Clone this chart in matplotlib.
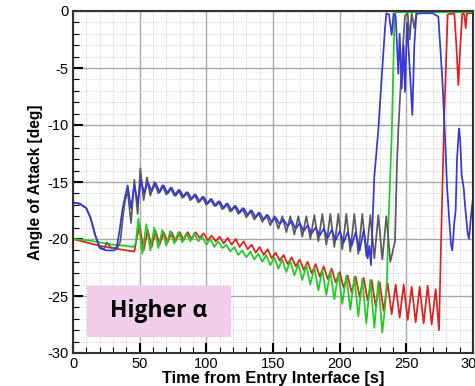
import matplotlib
matplotlib.use("Agg")
import matplotlib.pyplot as plt
from matplotlib.patches import Rectangle
from matplotlib.ticker import MultipleLocator

plt.rcParams['font.family'] = ['Liberation Sans', 'DejaVu Sans']
plt.rcParams['axes.unicode_minus'] = False

# angle of attack [deg] vs time from entry interface [s]
blue_time = [0, 5, 10, 13, 16.5, 20, 25, 31, 33, 35, 37, 38.5, 41, 43.5, 46, 48.5, 51, 53.5,
             56, 59, 62, 65, 68, 71, 74, 77, 80, 83, 86, 89, 92, 95, 98, 101, 104,
             107, 110, 113, 116, 119, 122, 125, 128, 131, 134, 137, 140, 143, 146, 149, 152, 155,
             158, 161, 164, 167, 170, 173, 176, 179, 182, 185, 188, 191, 194, 197, 200, 203, 206,
             209, 212, 215, 218, 221,
             222.2, 223.5, 225, 226, 227.5, 229, 232, 234, 235, 237, 239, 240.5, 242, 244, 245,
             246.5, 248, 249, 250.5, 252, 253, 254.5, 256, 257.5, 260, 270, 274, 277, 279, 280.5,
             282, 283.5, 284.5, 286, 287, 288, 289.5, 290.5, 291.5, 293, 294, 296, 297, 298.5, 300]
blue_aoa = [-16.8, -16.9, -17.3, -18.1, -19.6, -20.8, -21.0, -21.0, -20.6, -19.2, -17.5, -16.6,
            -15.3, -17.3, -15.3, -16.8, -14.9, -16.0,
            -15.0, -15.8, -15.1, -15.9, -15.3, -16.0, -15.5, -16.2, -15.7, -16.3, -15.9, -16.5,
            -16.1, -16.7, -16.3, -16.9, -16.5,
            -17.1, -16.7, -17.3, -16.9, -17.5, -17.1, -17.7, -17.3, -17.9, -17.5, -18.1, -17.7,
            -18.3, -17.9, -18.5, -18.1, -18.7,
            -18.3, -18.9, -18.4, -19.1, -18.6, -19.3, -18.8, -19.5, -19.0, -19.7, -19.1, -19.9,
            -19.2, -20.1, -19.3, -20.3, -19.4,
            -20.6, -19.4, -21.0, -19.2, -21.7,
            -20.6, -22.3, -17.5, -14.5, -12.5, -10.4, -5.0, -1.5, -0.2, -0.3, -2.1, -0.2, -0.5,
            -5.5, -2.0, -6.8, -3.0, -7.1, -1.0, -4.0, -6.0, -9.1, -3.0, -0.3, -0.2, -0.2, -0.5,
            -6.0, -11.0, -15.3, -18.0, -20.5, -21.0, -18.5, -17.5, -13.0, -10.3, -11.5, -14.4,
            -15.5, -17.0, -19.5, -20.0, -18.0, -16.4]

gray_time = [0, 5, 10, 13, 16.5, 20, 23, 25.5, 28, 33, 35.5, 37.5, 39,
             41, 43.5, 46, 48.5, 50.5, 53, 55.5,
             58, 61, 64, 67, 70, 73, 76, 79, 82, 85, 88, 91, 94, 97, 100, 103, 106,
             109, 112, 115, 118, 121, 124, 127, 130, 133, 136, 139, 142, 145, 148, 151, 154, 157,
             160, 163, 166, 169, 172, 175, 178, 181, 184, 187, 190, 193, 196, 199, 202, 205, 208,
             211, 214, 217, 220, 223, 226, 229, 232, 235, 238,
             241.5, 243, 244, 245, 247, 249, 251, 252.5, 254, 256, 257.5]
gray_aoa = [-16.8, -16.9, -17.3, -18.1, -19.6, -20.7, -20.9, -20.3, -20.7, -20.9, -20.2, -18.0,
            -16.6, -15.8, -18.6, -14.8, -17.8, -13.8, -16.6, -14.6,
            -16.2, -15.0, -16.0, -15.3, -16.1, -15.5, -16.2, -15.7, -16.4, -15.9, -16.6, -16.1,
            -16.8, -16.3, -17.0, -16.5, -17.1,
            -16.7, -17.4, -16.9, -17.6, -17.1, -17.8, -17.3, -18.1, -17.5, -18.3, -17.7, -18.5,
            -17.9, -18.8, -18.0, -19.1, -18.0,
            -19.4, -18.0, -19.6, -18.0, -19.8, -18.0, -20.0, -17.9, -20.2, -17.8, -20.5, -17.8,
            -20.7, -17.8, -20.9, -17.8, -21.1,
            -17.8, -21.3, -17.8, -21.5, -17.9, -21.7, -17.9, -21.8, -18.0, -22.0,
            -20.2, -13.3, -10.4, -8.2, -3.9, -0.4, -0.2, -2.5, -0.2, -1.5, -0.2]

red_time = [0, 10, 20, 30, 40, 46, 48,
            50, 53, 56, 59, 62, 65, 68, 71, 74, 77, 80, 83, 86, 89, 92, 95, 98,
            101, 104, 107, 110, 113, 116, 119, 122, 125, 128, 131, 134, 137, 140, 143, 146, 149,
            152, 155, 158, 161, 164, 167, 170, 173, 176, 179, 182, 185, 188, 191, 194, 197, 200,
            203, 206, 209, 212, 215, 218, 221, 224, 227, 230, 233, 236, 239, 242, 245, 248, 251,
            254, 257, 260, 263, 266, 269, 272,
            274.5, 276.5, 278.5, 281, 286, 287.5, 289, 290.5, 292, 293.5, 294.5, 295.5, 300]
red_aoa = [-20.0, -20.3, -20.6, -20.8, -21.0, -21.1, -19.8,
           -18.8, -21.0, -19.2, -20.7, -19.3, -20.5, -19.4, -20.3, -19.4, -20.2, -19.4, -20.1,
           -19.4, -20.0, -19.4, -19.9, -19.5,
           -20.1, -19.7, -20.2, -19.8, -20.4, -19.9, -20.5, -20.0, -20.7, -20.2, -20.9, -20.5,
           -21.2, -20.7, -21.4, -20.9, -21.7,
           -21.2, -21.9, -21.4, -22.2, -21.6, -22.4, -21.8, -22.7, -22.0, -23.0, -22.2, -23.3,
           -22.4, -23.5, -22.6, -23.8, -22.9,
           -24.3, -23.2, -24.7, -23.3, -25.1, -23.4, -25.4, -23.6, -25.9, -23.8, -26.3, -23.9,
           -26.6, -24.0, -26.9, -24.0, -27.1,
           -24.2, -27.3, -24.2, -27.4, -24.1, -27.5, -24.4,
           -28.0, -18.0, -9.0, -0.3, -0.2, -3.0, -6.5, -3.0, -0.2, -0.3, -1.5, -0.2, -0.2]

green_time = [0, 10, 20, 30, 40, 45, 47,
              49, 52, 55, 58, 61, 64, 67, 70, 73, 76, 79, 82, 85, 88, 91, 94, 97,
              100, 103, 106, 109, 112, 115, 118, 121, 124, 127, 130, 133, 136, 139, 142, 145, 148,
              151, 154, 157, 160, 163, 166, 169, 172, 175, 178, 181, 184, 187, 190, 193, 196, 199,
              202, 205, 208, 211, 214, 217, 220, 223, 226, 229, 232,
              234, 235.5, 236.5, 239, 241, 242, 300]
green_aoa = [-20.0, -20.1, -20.3, -20.5, -20.6, -20.7, -20.4,
             -18.2, -21.3, -18.7, -21.0, -19.0, -20.8, -19.2, -20.6, -19.3, -20.4, -19.4, -20.3,
             -19.5, -20.2, -19.5, -20.2, -19.8,
             -20.5, -20.0, -20.7, -20.2, -20.8, -20.5, -21.1, -20.7, -21.4, -21.0, -21.6, -21.1,
             -21.8, -21.3, -22.0, -21.4, -22.3,
             -21.6, -22.6, -21.8, -22.9, -21.9, -23.2, -22.2, -23.6, -22.3, -24.0, -22.5, -24.5,
             -22.7, -24.9, -22.8, -25.3, -23.0,
             -25.7, -23.2, -26.2, -23.3, -26.8, -23.5, -27.4, -23.6, -27.8, -23.7, -28.2,
             -26.0, -23.5, -19.0, -11.0, -1.2, -0.1, -0.1]

fig = plt.figure(figsize=(4.75, 3.86), dpi=100)
ax = fig.add_axes([73 / 475, 33 / 386, 400 / 475, 342 / 386])

ax.plot(red_time, red_aoa, color='#e01f1f', lw=1.25)
ax.plot(green_time, green_aoa, color='#1fcc1f', lw=1.25)
ax.plot(gray_time, gray_aoa, color='#5a5a5a', lw=1.25)
ax.plot(blue_time, blue_aoa, color='#3636dc', lw=1.25)

ax.set_xlim(0, 300)
ax.set_ylim(-30, 0)
ax.xaxis.set_major_locator(MultipleLocator(50))
ax.xaxis.set_minor_locator(MultipleLocator(10))
ax.yaxis.set_major_locator(MultipleLocator(5))
ax.yaxis.set_minor_locator(MultipleLocator(1))
ax.grid(which='major', color='#a8a8a8', lw=1.0)
ax.grid(which='minor', color='#c8c8c8', lw=0.7, ls=':')
ax.set_axisbelow(True)

ax.tick_params(which='major', direction='in', length=7, width=1.5, labelsize=10.5, pad=3)
ax.tick_params(which='minor', direction='in', length=4, width=0.8)
for s in ax.spines.values():
    s.set_color('#333333')
    s.set_linewidth(1.5)

ax.set_xlabel('Time from Entry Interface [s]', fontsize=11.8, fontweight='bold', labelpad=0)
ax.set_ylabel('Angle of Attack [deg]', fontsize=11.2, fontweight='bold', labelpad=3)

ax.add_patch(Rectangle((0.035, 0.047), 0.36, 0.149, transform=ax.transAxes,
                       facecolor='#f0cdeb', edgecolor='none', zorder=5))
ax.text(0.215, 0.123, 'Higher α', transform=ax.transAxes, ha='center', va='center',
        fontsize=16.5, fontweight='bold', family=['Open Sans', 'DejaVu Sans'], zorder=6)

fig.savefig('out.png', dpi=100)
